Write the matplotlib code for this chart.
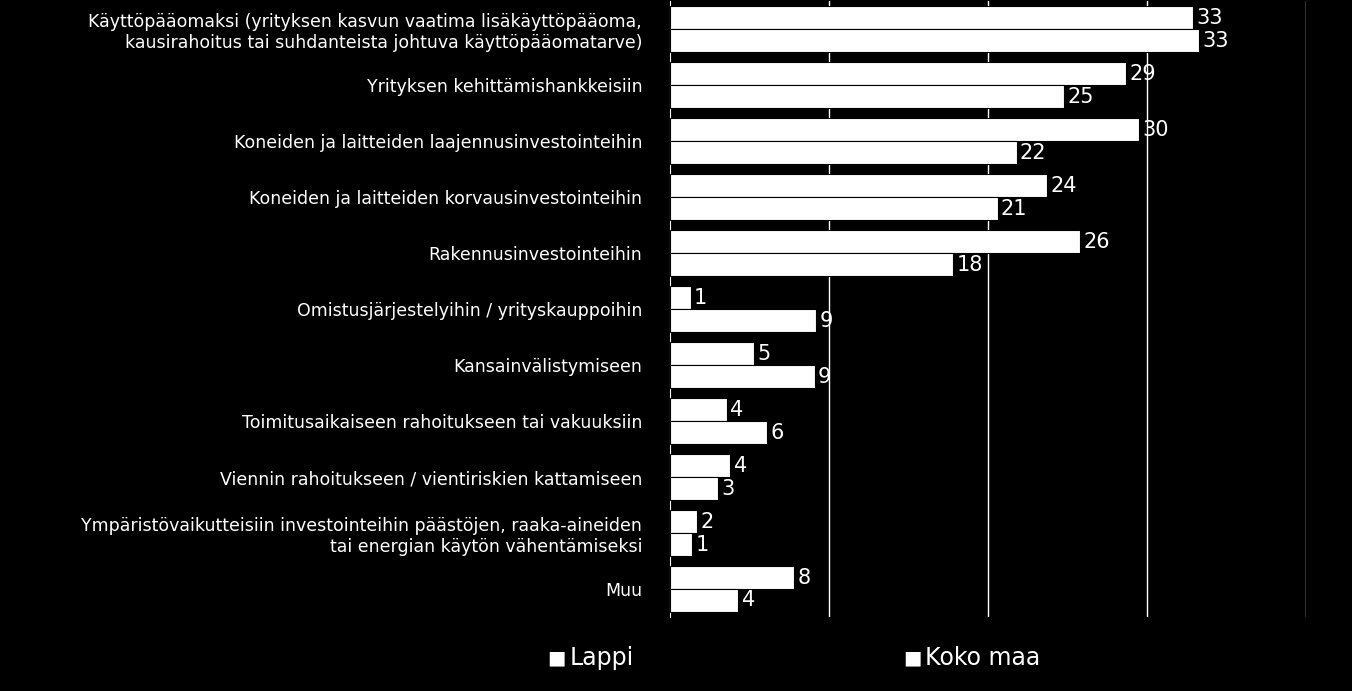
import matplotlib
matplotlib.use("Agg")
import matplotlib.pyplot as plt
import numpy as np

categories = [
    "Käyttöpääomaksi (yrityksen kasvun vaatima lisäkäyttöpääoma,\nkausirahoitus tai suhdanteista johtuva käyttöpääomatarve)",
    "Yrityksen kehittämishankkeisiin",
    "Koneiden ja laitteiden laajennusinvestointeihin",
    "Koneiden ja laitteiden korvausinvestointeihin",
    "Rakennusinvestointeihin",
    "Omistusjärjestelyihin / yrityskauppoihin",
    "Kansainvälistymiseen",
    "Toimitusaikaiseen rahoitukseen tai vakuuksiin",
    "Viennin rahoitukseen / vientiriskien kattamiseen",
    "Ympäristövaikutteisiin investointeihin päästöjen, raaka-aineiden\ntai energian käytön vähentämiseksi",
    "Muu",
]
lappi = [32.9, 28.7, 29.5, 23.7, 25.8, 1.3, 5.3, 3.6, 3.8, 1.7, 7.8]
koko_maa = [33.3, 24.8, 21.8, 20.6, 17.8, 9.2, 9.1, 6.1, 3.0, 1.4, 4.3]
series_names = ["Lappi", "Koko maa"]

fig = plt.figure(figsize=(13.52, 6.91), dpi=100, facecolor="black")
ax = fig.add_axes([670/1352, 1-617/691, 636/1352, 617/691 - 0.002])
ax.set_facecolor("black")
y = np.arange(len(categories))
h = 0.41
ax.barh(y - h/2, lappi, height=h, color="white", edgecolor="black", linewidth=0.8, zorder=3)
ax.barh(y + h/2, koko_maa, height=h, color="white", edgecolor="black", linewidth=0.8, zorder=3)
for i in range(len(categories)):
    ax.text(lappi[i] + 0.2, y[i] - h/2, f"{lappi[i]:.0f}", color="white", fontsize=15, va="center", ha="left", zorder=4)
    ax.text(koko_maa[i] + 0.2, y[i] + h/2, f"{koko_maa[i]:.0f}", color="white", fontsize=15, va="center", ha="left", zorder=4)
ax.set_xlim(0, 40)
ax.set_ylim(len(categories) - 0.5, -0.5)
ax.set_xticks([10, 20, 30, 40])
ax.xaxis.grid(True, color="white", linewidth=1)
ax.tick_params(axis="x", length=0, labelbottom=False)
ax.tick_params(axis="y", length=0, colors="white", labelsize=12.5, pad=20)
ax.set_yticks(y)
ax.set_yticklabels(categories, color="white")
for lab in ax.get_yticklabels():
    lab.set_horizontalalignment("right")
    lab.set_multialignment("right")
for s in ["top", "right", "bottom"]:
    ax.spines[s].set_visible(False)
ax.spines["left"].set_color("white")

fig.text(0.405, 0.048, "■", color="white", fontsize=14, va="center", ha="left")
fig.text(0.421, 0.048, series_names[0], color="white", fontsize=17, va="center", ha="left")
fig.text(0.668, 0.048, "■", color="white", fontsize=14, va="center", ha="left")
fig.text(0.684, 0.048, series_names[1], color="white", fontsize=17, va="center", ha="left")
fig.savefig("out.png", dpi=100, facecolor="black")
